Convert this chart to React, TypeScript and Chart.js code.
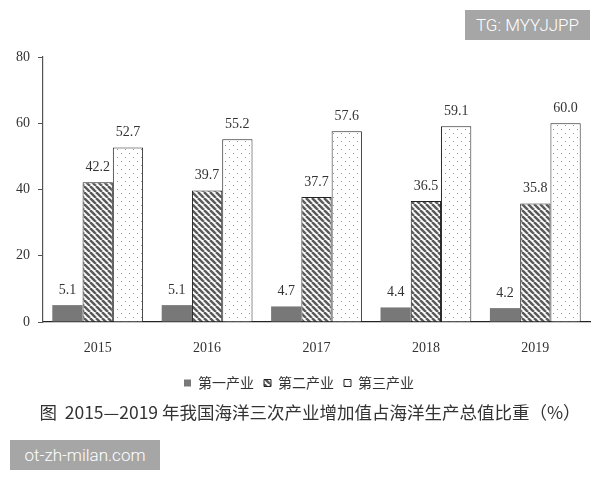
import { useEffect, useRef } from "react";
import { Chart, registerables } from "chart.js";

Chart.register(...registerables);

const years = ["2015", "2016", "2017", "2018", "2019"];
const primary = [5.1, 5.1, 4.7, 4.4, 4.2];
const secondary = [42.2, 39.7, 37.7, 36.5, 35.8];
const tertiary = [52.7, 55.2, 57.6, 59.1, 60.0];
const seriesNames = ["第一产业", "第二产业", "第三产业"];
const yTicks = [0, 20, 40, 60, 80];

const SERIF = "'Liberation Serif', 'Times New Roman', serif";
const CJK = "'Noto Sans CJK SC', sans-serif";

function hatchPattern(ctx: CanvasRenderingContext2D) {
  const c = document.createElement("canvas");
  c.width = 6;
  c.height = 6;
  const g = c.getContext("2d")!;
  g.fillStyle = "#ffffff";
  g.fillRect(0, 0, 6, 6);
  g.strokeStyle = "#5a5a5a";
  g.lineWidth = 2.5;
  for (const k of [-6, 0, 6]) {
    g.beginPath();
    g.moveTo(k, 0);
    g.lineTo(k + 6, 6);
    g.stroke();
  }
  return ctx.createPattern(c, "repeat")!;
}

function dotPattern(ctx: CanvasRenderingContext2D) {
  const c = document.createElement("canvas");
  c.width = 8;
  c.height = 8;
  const g = c.getContext("2d")!;
  g.fillStyle = "#ffffff";
  g.fillRect(0, 0, 8, 8);
  g.fillStyle = "#9a9a9a";
  g.fillRect(1, 1, 1, 1);
  g.fillRect(5, 5, 1, 1);
  return ctx.createPattern(c, "repeat")!;
}

const valueLabels = {
  id: "valueLabels",
  afterDatasetsDraw(chart: Chart) {
    const ctx = chart.ctx;
    ctx.save();
    ctx.font = `14px ${SERIF}`;
    ctx.fillStyle = "#333";
    ctx.textAlign = "center";
    ctx.textBaseline = "bottom";
    chart.data.datasets.forEach((ds, i) => {
      const meta = chart.getDatasetMeta(i);
      meta.data.forEach((bar: any, j) => {
        const v = ds.data[j] as number;
        ctx.fillText(v.toFixed(1), bar.x, bar.y - 8);
      });
    });
    ctx.restore();
  },
};

export default function App() {
  const canvasRef = useRef<HTMLCanvasElement>(null);
  const chartRef = useRef<Chart | null>(null);

  useEffect(() => {
    document.body.style.margin = "0";
    if (!canvasRef.current) return;
    const ctx = canvasRef.current.getContext("2d");
    if (!ctx) return;
    if (chartRef.current) chartRef.current.destroy();

    chartRef.current = new Chart(ctx, {
      type: "bar",
      data: {
        labels: years,
        datasets: [
          {
            label: seriesNames[0],
            data: primary,
            backgroundColor: "#787878",
            borderColor: "#787878",
            borderWidth: 0,
          },
          {
            label: seriesNames[1],
            data: secondary,
            backgroundColor: hatchPattern(ctx),
            borderColor: "#222",
            borderWidth: 1,
          },
          {
            label: seriesNames[2],
            data: tertiary,
            backgroundColor: dotPattern(ctx),
            borderColor: "#222",
            borderWidth: 1,
          },
        ],
      },
      options: {
        responsive: true,
        maintainAspectRatio: false,
        animation: false,
        layout: { padding: { top: 57, left: 8, right: 10, bottom: 80 } },
        datasets: {
          bar: { categoryPercentage: 0.83, barPercentage: 1.0 },
        },
        plugins: {
          tooltip: { enabled: false },
          legend: {
            position: "bottom",
            labels: {
              boxWidth: 7,
              boxHeight: 7,
              padding: 10,
              color: "#333",
              font: { family: CJK, size: 14 },
            },
          },
        },
        scales: {
          x: {
            grid: { display: false },
            border: { color: "#222", width: 1.2 },
            ticks: {
              padding: 10,
              color: "#333",
              font: { family: SERIF, size: 14 },
            },
            afterFit: (scale: any) => {
              scale.height = 44;
            },
          },
          y: {
            min: 0,
            max: 80,
            afterBuildTicks: (scale: any) => {
              scale.ticks = yTicks.map(v => ({ value: v }));
            },
            grid: {
              drawOnChartArea: false,
              drawTicks: true,
              tickLength: 5,
              color: "#555",
            },
            border: { color: "#555", width: 1.2 },
            ticks: {
              padding: 8,
              color: "#333",
              font: { family: SERIF, size: 14 },
            },
            afterFit: (scale: any) => {
              scale.width = 35;
            },
          },
        },
      },
      plugins: [valueLabels],
    });

    return () => {
      if (chartRef.current) {
        chartRef.current.destroy();
        chartRef.current = null;
      }
    };
  }, []);

  return (
    <div style={{ position: "relative", width: 600, height: 480, background: "#fff" }}>
      <canvas ref={canvasRef}></canvas>
      <div
        style={{
          position: "absolute",
          left: 10,
          width: 600,
          top: 399,
          textAlign: "center",
          fontFamily: CJK,
          fontSize: 17.5,
          color: "#333",
          whiteSpace: "pre",
        }}
      >
        {"图  2015—2019 年我国海洋三次产业增加值占海洋生产总值比重（%）"}
      </div>
      <div
        style={{
          position: "absolute",
          left: 465,
          top: 10,
          width: 125,
          height: 30,
          lineHeight: "30px",
          background: "#a6a6a6",
          color: "#fff",
          fontFamily: "Roboto, sans-serif",
          fontWeight: 300,
          fontSize: 17,
          textAlign: "center",
        }}
      >
        TG: MYYJJPP
      </div>
      <div
        style={{
          position: "absolute",
          left: 10,
          top: 440,
          width: 150,
          height: 30,
          lineHeight: "30px",
          background: "#a6a6a6",
          color: "#fff",
          fontFamily: "Roboto, sans-serif",
          fontWeight: 300,
          fontSize: 17,
          textAlign: "center",
        }}
      >
        ot-zh-milan.com
      </div>
    </div>
  );
}
